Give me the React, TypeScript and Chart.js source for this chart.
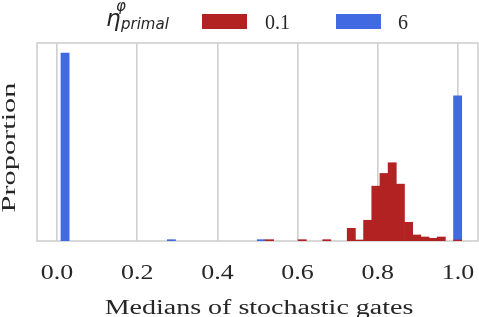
import React, { useEffect, useRef } from 'react';
import { Chart, registerables } from 'chart.js';

Chart.register(...registerables);

// ---- data ----
const SERIES_LABELS = ['0.1', '6'];
// bin centers (bin width ≈ 0.0204)
const RED_BINS = [0.53, 0.6116, 0.6728, 0.734, 0.7544, 0.7748, 0.7952, 0.8156, 0.836, 0.8564, 0.8768, 0.8972, 0.9176, 0.938, 0.9584, 0.9992];
const RED_VALUES = [0.002, 0.002, 0.002, 0.019, 0.0015, 0.031, 0.082, 0.101, 0.117, 0.085, 0.028, 0.009, 0.006, 0.004, 0.006, 0.0015];
const BLUE_BINS = [0.02, 0.2852, 0.5096, 0.9992];
const BLUE_VALUES = [0.281, 0.002, 0.002, 0.217];
const X_TICKS = [0, 0.2, 0.4, 0.6, 0.8, 1.0];
const X_MIN = -0.05;
const X_MAX = 1.05;
const Y_MAX = 0.296;
const X_TITLE = 'Medians of stochastic gates';
const Y_TITLE = 'Proportion';
const LEGEND_MAIN = 'η';
const LEGEND_SUP = 'φ';
const LEGEND_SUB = 'primal';

const RED = '#B22222';
const BLUE = '#4169E1';
const TEXT = '#262626';
const GRID = '#cfcfcf';

const decorPlugin = {
  id: 'decor',
  beforeDatasetsDraw(chart: any) {
    const { ctx, chartArea: ca } = chart;
    ctx.save();
    ctx.strokeStyle = GRID;
    ctx.lineWidth = 1.6;
    ctx.strokeRect(ca.left, ca.top, ca.right - ca.left, ca.bottom - ca.top);
    ctx.restore();
  },
  afterDraw(chart: any) {
    const { ctx, chartArea: ca } = chart;
    const xs = chart.scales.x;
    ctx.save();
    ctx.fillStyle = TEXT;
    ctx.textBaseline = 'alphabetic';

    // x tick labels
    ctx.font = "22px 'Liberation Serif'";
    ctx.textAlign = 'center';
    X_TICKS.forEach((v) => {
      const px = xs.getPixelForValue(v);
      ctx.save();
      ctx.translate(px, ca.bottom + 37.5);
      ctx.scale(1.18, 1);
      ctx.fillText(v.toFixed(1), 0, 0);
      ctx.restore();
    });

    // x title
    ctx.font = "20px 'Liberation Serif'";
    ctx.save();
    ctx.translate((ca.left + ca.right) / 2 + 1.5, ca.bottom + 73);
    ctx.scale(1.4, 1);
    ctx.fillText(X_TITLE, 0, 0);
    ctx.restore();

    // y title
    ctx.font = "19px 'Liberation Serif'";
    ctx.save();
    ctx.translate(15.2, (ca.top + ca.bottom) / 2 + 5.5);
    ctx.rotate(-Math.PI / 2);
    ctx.scale(1.6, 1);
    ctx.fillText(Y_TITLE, 0, 0);
    ctx.restore();

    // legend
    ctx.textAlign = 'left';
    ctx.font = "italic 23px 'DejaVu Sans'";
    ctx.fillText(LEGEND_MAIN, 106, 26);
    ctx.font = "italic 15px 'DejaVu Sans'";
    ctx.fillText(LEGEND_SUP, 116, 11);
    ctx.fillText(LEGEND_SUB, 121, 28.5);

    const items = chart.data.datasets;
    const swatchX = [202, 336];
    const textX = [265, 398];
    items.forEach((ds: any, i: number) => {
      ctx.fillStyle = ds.backgroundColor;
      ctx.fillRect(swatchX[i], 14, 45, 15);
      ctx.fillStyle = TEXT;
      ctx.font = "20px 'Liberation Serif'";
      ctx.fillText(ds.label, textX[i], 29);
    });
    ctx.restore();
  },
};

export default function App() {
  const ref = useRef<HTMLCanvasElement | null>(null);
  useEffect(() => {
    const canvas = ref.current;
    if (!canvas) return;
    const chart = new Chart(canvas, {
      type: 'bar',
      data: {
        datasets: [
          {
            label: SERIES_LABELS[0],
            data: RED_BINS.map((x, i) => ({ x, y: RED_VALUES[i] })),
            backgroundColor: RED,
            borderWidth: 0,
            grouped: false,
            categoryPercentage: 1,
            barPercentage: 1,
          },
          {
            label: SERIES_LABELS[1],
            data: BLUE_BINS.map((x, i) => ({ x, y: BLUE_VALUES[i] })),
            backgroundColor: BLUE,
            borderWidth: 0,
            grouped: false,
            categoryPercentage: 1,
            barPercentage: 1,
          },
        ] as any,
      },
      options: {
        animation: false,
        responsive: false,
        devicePixelRatio: 1,
        layout: { padding: { left: 37, right: 1, top: 43, bottom: 76 } },
        plugins: { legend: { display: false }, tooltip: { enabled: false } },
        scales: {
          x: {
            type: 'linear',
            min: X_MIN,
            max: X_MAX,
            offset: false,
            afterBuildTicks: (scale: any) => {
              scale.ticks = X_TICKS.map((v) => ({ value: v }));
            },
            ticks: { display: false },
            grid: { color: GRID, lineWidth: 1.6, drawTicks: false, offset: false },
            border: { display: false },
            title: { display: false },
          },
          y: {
            min: 0,
            max: Y_MAX,
            ticks: { display: false },
            grid: { display: false, drawTicks: false },
            border: { display: false },
            title: { display: false },
          },
        },
      } as any,
      plugins: [decorPlugin],
    });
    return () => chart.destroy();
  }, []);
  return (
    <div style={{ position: 'fixed', left: 0, top: 0, width: 479, height: 317, background: '#fff' }}>
      <canvas ref={ref} width={479} height={317} style={{ width: 479, height: 317, display: 'block' }} />
    </div>
  );
}
